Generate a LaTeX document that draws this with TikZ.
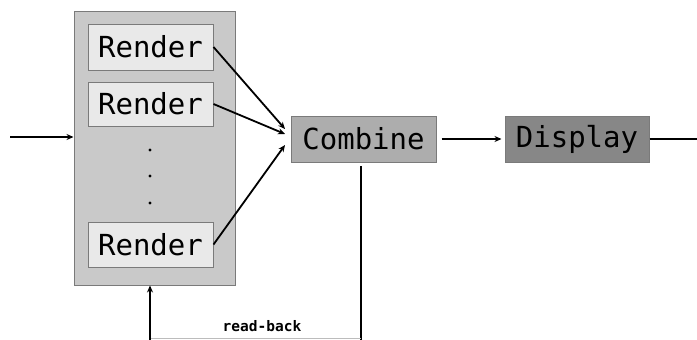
\documentclass[tikz,border=0pt]{standalone}
\usepackage{fontspec}
\newfontfamily\monof{DejaVu Sans Mono}
\usetikzlibrary{arrows.meta,calc}
\definecolor{outerfill}{HTML}{C9C9C9}
\definecolor{renderfill}{HTML}{E9E9E9}
\definecolor{combfill}{HTML}{ADADAD}
\definecolor{dispfill}{HTML}{878787}
\definecolor{edge}{HTML}{7A7A7A}
\begin{document}
\begin{tikzpicture}[x=1pt,y=-1pt,
  box/.style={draw=edge,line width=1pt,inner sep=0pt,font=\monof\fontsize{29}{29}\selectfont},
  conn/.style={line width=1.8pt,-{Stealth[length=7pt,width=6pt]}},
  line/.style={line width=1.8pt}]
\useasboundingbox (0,0) rectangle (697,340);
\node[draw=edge,fill=outerfill,line width=1pt,minimum width=161pt,minimum height=274pt,inner sep=0pt] (outer) at (154.5,148) {};
\node[box,fill=renderfill,minimum width=125pt,minimum height=46pt] (r1) at (150.5,47) {Render};
\node[box,fill=renderfill,minimum width=125pt,minimum height=44pt] (r2) at (150.5,104) {Render};
\node[box,fill=renderfill,minimum width=125pt,minimum height=45pt] (r3) at (150.5,244.5) {Render};
\foreach \yy in {150,176,203} \fill (150,\yy) circle (1.6pt);
\node[box,fill=combfill,minimum width=145pt,minimum height=46pt] (comb) at (363.5,139) {Combine};
\node[box,fill=dispfill,minimum width=144pt,minimum height=46pt] (disp) at (577,139) {Display};
\coordinate (in) at (10,137);
\coordinate (out) at (697,139);
\coordinate (c1) at (285,129);
\coordinate (c2) at (285,134);
\coordinate (c3) at (285,145);
\coordinate (cs) at ($(comb.east)+(5,0)$);
\coordinate (de) at ($(disp.west)+(-3,0)$);
\draw[conn] (in) -- (outer.west |- in);
\draw[conn] (r1.east) -- (c1);
\draw[conn] (r2.east) -- (c2);
\draw[conn] (r3.east) -- (c3);
\draw[conn] (cs) -- (de);
\draw[line] (disp.east) -- (out);
\coordinate (fbA) at (361,166);
\coordinate (fbB) at (361,340);
\coordinate (fbC) at (150,340);
\coordinate (fbB2) at (361,338.5);
\coordinate (fbC2) at (150,338.5);
\draw[line] (fbA) -- (fbB);
\draw[draw=edge!50,line width=0.8pt] (fbB2) -- (fbC2);
\draw[conn] (fbC) -- (outer.south -| fbC);
\node[font=\monof\bfseries\fontsize{14.5}{15}\selectfont,anchor=base] (rb) at (262,331) {read-back};
\end{tikzpicture}
\end{document}
